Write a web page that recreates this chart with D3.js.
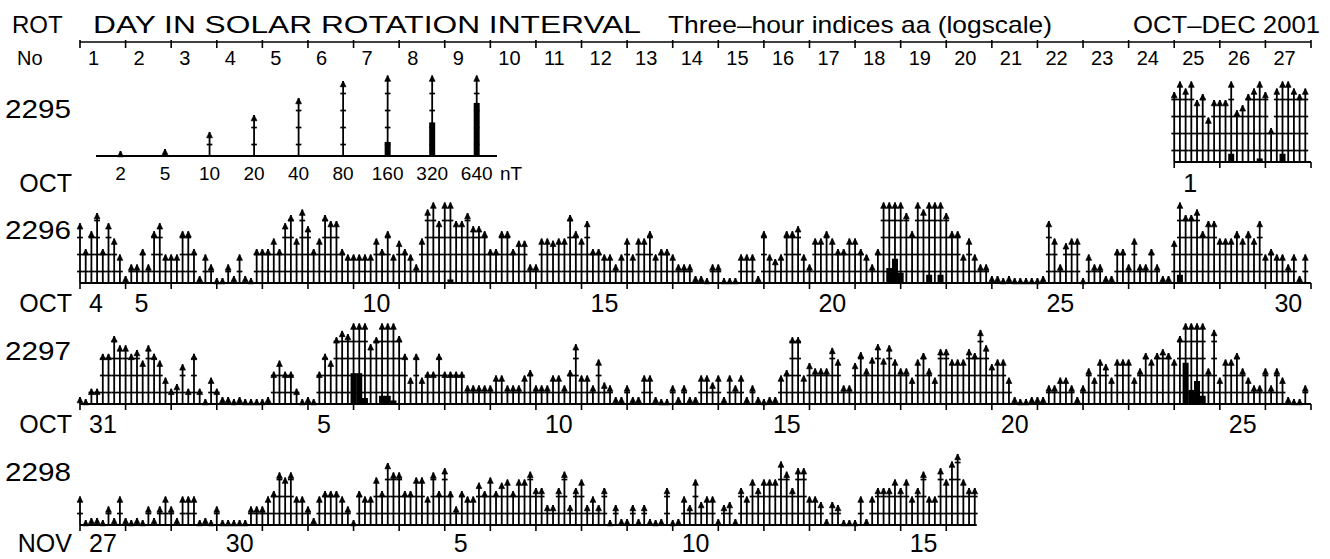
<!DOCTYPE html>
<meta charset="utf-8">
<html lang="en"></html>
<script src="https://d3js.org/d3.v7.min.js"></script>
<style>
  body { margin: 0; background: #fff; }
  text { font-family: "Liberation Sans", Arial, sans-serif; fill: #000; }
</style>
<div id="chart"></div>
<script>
// three-hour aa values (nT), 8 per day, one list per Bartels rotation
const rot2295 = [ // starts on day 25 (Oct 1)
  65,100,75,100,47,60,23,47,  47,47,130,31,38,60,75,110,  65,15,75,130,100,75,60,75];
const rot2296 = [
  43,15,31,65,15,43,23,12,  5,8,8,15,8,31,43,12,  12,12,31,31,15,5,12,8,
  3.5,3.5,8,5,12,5,3.5,15,  15,15,23,15,43,60,23,75,  38,15,23,60,47,47,15,12,
  12,12,12,12,23,15,31,12,  21,15,12,8,23,75,100,47,  100,110,47,47,65,38,38,31,
  15,15,31,31,15,21,21,8,  8,23,23,21,23,23,60,31,  23,47,15,15,12,12,8,12,
  23,12,23,23,31,12,15,15,  12,8,8,8,5,5,3.5,8,  8,3.5,3.5,3.5,12,12,12,5,
  31,12,10,12,31,31,38,12,  8,23,23,31,23,15,15,23,  23,15,12,8,15,100,165,230,
  140,65,31,100,75,130,100,130,  65,31,31,12,23,12,8,8,  5,5,3.5,5,3.5,3.5,3.5,3.5,
  3.5,5,47,23,8,19,23,23,  3.5,12,8,8,5,5,15,15,  8,23,8,8,15,8,5,5,
  21,130,60,60,75,31,47,47,  23,23,23,31,23,31,23,47,  12,15,12,12,8,12,5,12];
const rot2297 = [
  5,3.5,7,7,29,29,60,41,  41,29,34,22,41,29,22,11,  7,8.5,19,7,29,7,3.5,11,
  7,5,5,3.5,5,3.5,3.5,3.5,  3.5,5,14,22,14,14,7,3.5,  5,3.5,14,29,22,57,74,65,
  290,290,120,43,57,130,130,110,  60,29,11,29,11,14,14,29,  14,14,14,14,8,8,8,8,
  8,12,12,8,8,8,12,15,  8,8,8,12,12,8,15,43,  12,12,8,23,9,8,5,5,
  8,5,5,12,12,5,3.5,3.5,  8,5,8,5,5,12,12,9,  12,5,12,8,12,5,8,5,
  3,5,5,12,15,57,57,12,  20,16,16,16,37,23,8,8,  20,31,16,25,43,24,41,23,
  16,16,11,23,30,16,11,35,  35,23,23,23,35,30,77,41,  19,23,23,11,5,3.5,3.5,5,
  5,5,8,8,11,11,8,5,  8,16,11,23,19,11,23,23,  23,11,16,30,23,30,35,30,
  23,60,420,160,220,130,16,77,  11,23,23,30,16,11,8,8,  16,8,16,11,5,3.5,3.5,8];
const rot2298 = [
  12,4,5,5,4,8,5,12,  5,4,5,4,8,5,8,12,  8,5,12,12,12,4,5,4,
  8,3.5,3.5,3.5,3.5,3.5,8,8,  8,12,15,32,26,32,12,12,  8,5,12,15,15,15,12,8,
  3,15,12,12,26,15,47,32,  32,15,15,26,26,12,32,15,  38,15,8,15,12,12,21,15,
  26,15,21,24,15,24,24,33,  17,17,8.5,8.5,17,33,8.5,17,  24,8.5,12,8.5,17,4.5,8.5,4.8,
  4.8,8.5,4.8,8.5,4.8,3.5,4.8,17,  3,4.8,12,8.5,24,9.6,12,12,  4.8,8.5,9.6,4.8,17,12,24,17,
  24,24,24,50,33,17,38,38,  12,12,9.6,4.8,9.6,8.5,3.5,3.5,  3.5,12,4.8,12,17,17,17,24,
  17,24,12,17,33,12,12,38,  24,50,68,24,17,17];

const rotNumbers = ["2295", "2296", "2297", "2298"];
const rotMonths = ["OCT", "OCT", "OCT", "NOV"];
const rotStartDay = [24, 0, 0, 0];
const rotDayLabels = [
  {24: "1"},
  {0: "4", 1: "5", 6: "10", 11: "15", 16: "20", 21: "25", 26: "30"},
  {0: "31", 5: "5", 10: "10", 15: "15", 20: "20", 25: "25"},
  {0: "27", 3: "30", 8: "5", 13: "10", 18: "15"}
];
const legendValues = [2, 5, 10, 20, 40, 80, 160, 320, 640];
const gridLevels = [6, 12, 24, 48];

const W = 1330, H = 559;
const svg = d3.select("#chart").append("svg")
    .attr("width", W).attr("height", H);

// scales
const day = d3.scaleLinear().domain([0, 27]).range([80, 1311]);
const slot = d3.scaleLinear().domain([0, 27 * 8]).range([80, 1311]);
const hgt = d3.scaleLog().base(2).domain([3.76, 100]).range([0, 80.5]).clamp(true);
const bar = d3.scaleLog().base(2).domain([97, 1000]).range([0, 19.5 * Math.log2(1000 / 97)]).clamp(true);

// header
svg.append("text").attr("x", 12).attr("y", 33).style("font-size", "24px").text("ROT");
svg.append("text").attr("x", 93).attr("y", 33).style("font-size", "24px")
    .attr("textLength", 548).attr("lengthAdjust", "spacingAndGlyphs")
    .text("DAY IN SOLAR ROTATION INTERVAL");
svg.append("text").attr("x", 668).attr("y", 33).style("font-size", "24px")
    .attr("textLength", 384).attr("lengthAdjust", "spacingAndGlyphs")
    .text("Three\u2013hour indices aa (logscale)");
svg.append("text").attr("x", 1133).attr("y", 33).style("font-size", "24px")
    .attr("textLength", 187).attr("lengthAdjust", "spacingAndGlyphs")
    .text("OCT\u2013DEC 2001");
svg.append("text").attr("x", 17).attr("y", 65).style("font-size", "20px").text("No");

// top day axis
const dayAxis = svg.append("g");
dayAxis.append("line").attr("x1", day(0)).attr("x2", day(27))
    .attr("y1", 42).attr("y2", 42).attr("stroke", "#000").attr("stroke-width", 1.6);
dayAxis.selectAll("line.t").data(d3.range(28)).join("line").attr("class", "t")
    .attr("x1", d => day(d)).attr("x2", d => day(d))
    .attr("y1", 40).attr("y2", 48).attr("stroke", "#000").attr("stroke-width", 1.6);
dayAxis.selectAll("text").data(d3.range(27)).join("text")
    .attr("x", d => day(d) + 8).attr("y", 65).style("font-size", "20px")
    .text(d => d + 1);

// draw one stick (line, grid crosses, arrow, black bar) at x, base y
function stick(g, x, v, w) {
  const tip = Math.max(hgt(v), 5);
  g.append("line").attr("x1", x).attr("x2", x).attr("y1", 0).attr("y2", -tip)
      .attr("stroke", "#000").attr("stroke-width", 1.8);
  gridLevels.forEach(L => {
    if (hgt(L) < tip - 3)
      g.append("line").attr("x1", x - w).attr("x2", x + w)
          .attr("y1", -hgt(L)).attr("y2", -hgt(L))
          .attr("stroke", "#000").attr("stroke-width", 1.7);
  });
  g.append("path")
      .attr("d", `M${x},${-tip}L${x - 2.9},${-tip + 5.8}L${x + 2.9},${-tip + 5.8}Z`)
      .attr("fill", "#000").attr("stroke", "#000").attr("stroke-width", 0.7);
  if (v > 97) {
    const b = bar(v);
    g.append("rect").attr("x", x - 3).attr("y", -b).attr("width", 6).attr("height", b)
        .attr("fill", "#000");
  }
}

// rotation rows
const rows = [rot2295, rot2296, rot2297, rot2298];
const baseY = [162, 283, 404, 525];
const labelY = [30, 29, 29, 27];
rows.forEach((vals, r) => {
  const g = svg.append("g").attr("transform", "translate(0," + baseY[r] + ")");
  const s0 = rotStartDay[r] * 8;
  const full = vals.length % 8 === 0;
  const endDay = rotStartDay[r] + Math.floor(vals.length / 8);
  const endX = full ? day(endDay) : slot(s0 + vals.length - 1) + 2;
  vals.forEach((v, i) => stick(g, slot(s0 + i), v, 2.9));
  g.append("line").attr("x1", day(rotStartDay[r])).attr("x2", endX)
      .attr("y1", 0).attr("y2", 0).attr("stroke", "#000").attr("stroke-width", 2);
  g.selectAll("line.dt").data(d3.range(rotStartDay[r], endDay + 1)).join("line")
      .attr("class", "dt")
      .attr("x1", d => day(d)).attr("x2", d => day(d)).attr("y1", 0).attr("y2", 6)
      .attr("stroke", "#000").attr("stroke-width", 1.6);
  const labs = rotDayLabels[r];
  Object.keys(labs).forEach(k => {
    g.append("text").attr("x", day(+k) + 9).attr("y", labelY[r])
        .style("font-size", "25px").text(labs[k]);
  });
  g.append("text").attr("x", 5).attr("y", -44).style("font-size", "25px")
      .attr("textLength", 66).attr("lengthAdjust", "spacingAndGlyphs").text(rotNumbers[r]);
  g.append("text").attr("x", 72).attr("y", labelY[r]).attr("text-anchor", "end")
      .style("font-size", "25px").text(rotMonths[r]);
});

// legend (log scale key)
const lx = d3.scalePoint().domain(legendValues).range([120.5, 476.7]);
const lg = svg.append("g").attr("transform", "translate(0,156)");
lg.append("line").attr("x1", 96).attr("x2", 497).attr("y1", 0).attr("y2", 0)
    .attr("stroke", "#000").attr("stroke-width", 2);
legendValues.forEach(v => stick(lg, lx(v), v, 2.8));
lg.selectAll("text").data(legendValues).join("text")
    .attr("x", d => lx(d)).attr("y", 24).attr("text-anchor", "middle")
    .style("font-size", "19px").text(d => d);
lg.append("text").attr("x", 500).attr("y", 24).style("font-size", "19px").text("nT");
</script>
